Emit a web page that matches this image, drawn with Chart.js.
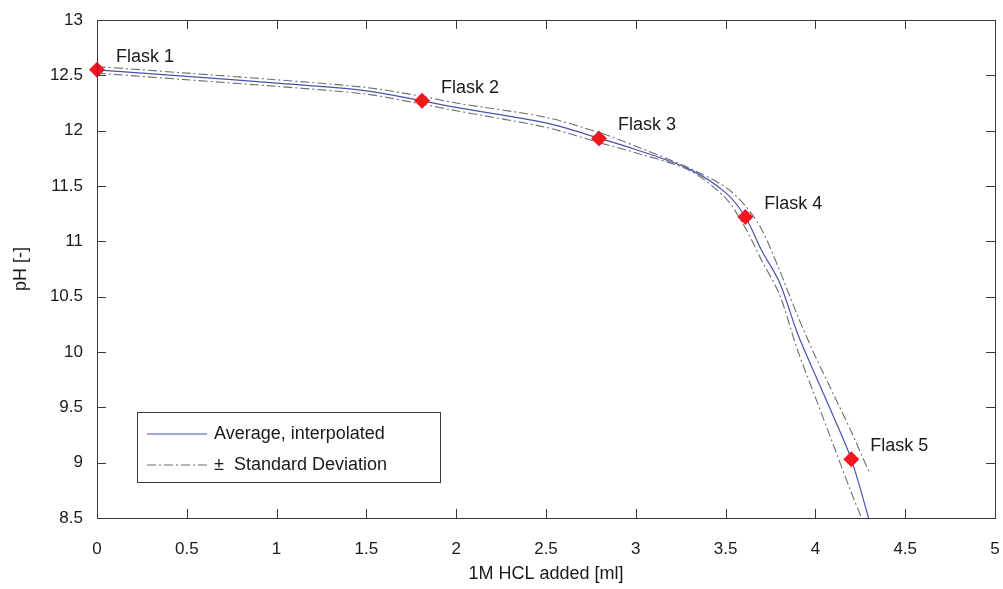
<!DOCTYPE html>
<html>
<head>
<meta charset="utf-8">
<script src="https://cdn.jsdelivr.net/npm/chart.js@4/dist/chart.umd.min.js"></script>
<style>
  html, body { margin: 0; padding: 0; background: #fff; }
  #wrap { width: 1003px; height: 589px; }
</style>
</head>
<body>
<div id="wrap"><canvas id="ph"></canvas></div>
<script>
// titration data
var hclAdded = [0, 0.5, 1.0, 1.5, 1.81, 2.0, 2.5, 2.8, 3.0, 3.3, 3.5, 3.61, 3.7, 3.8, 3.9, 4.0, 4.1, 4.2, 4.3];
var phMean  = [12.55, 12.49, 12.43, 12.36, 12.27, 12.21, 12.07, 11.93, 11.83, 11.65, 11.44, 11.22, 10.92, 10.63, 10.17, 9.79, 9.42, 9.03, 8.48];
var phUpper = [12.58, 12.52, 12.46, 12.39, 12.31, 12.25, 12.12, 11.98, 11.86, 11.66, 11.49, 11.32, 11.11, 10.74, 10.33, 9.96, 9.62, 9.28, 8.91];
var phLower = [12.52, 12.46, 12.40, 12.33, 12.24, 12.18, 12.03, 11.89, 11.80, 11.64, 11.39, 11.12, 10.83, 10.52, 10.02, 9.59, 9.16, 8.73, 8.33];

var flaskNames = ["Flask 1", "Flask 2", "Flask 3", "Flask 4", "Flask 5"];
var flaskX  = [0, 1.81, 2.795, 3.61, 4.2];
var flaskPh = [12.55, 12.27, 11.93, 11.22, 9.03];

var xTicks = [0, 0.5, 1, 1.5, 2, 2.5, 3, 3.5, 4, 4.5, 5];
var yTicks = [8.5, 9, 9.5, 10, 10.5, 11, 11.5, 12, 12.5, 13];

var FONT = "'Liberation Sans', Arial, sans-serif";
var BLUE = "rgb(72,82,178)";
var GREY = "rgb(110,110,110)";
var RED = "rgb(240,24,30)";
var DASHDOT = [9, 3, 2, 3];

function toPoints(xs, ys) {
    var arr = [];
    for (var i = 0; i < xs.length; i++) {
        arr.push({ x: xs[i], y: ys[i] });
    }
    return arr;
}

function plainNumber(v) {
    return String(Math.round(v * 10) / 10);
}

// box, inward ticks, flask labels and legend, drawn matlab style
var decorations = {
    id: 'decorations',
    afterDatasetsDraw: function (chart) {
        var ctx = chart.ctx;
        var a = chart.chartArea;
        var xs = chart.scales.x, ys = chart.scales.y;
        var t = 9;
        ctx.save();
        ctx.strokeStyle = "#3a3a3a";
        ctx.lineWidth = 1;
        ctx.setLineDash([]);
        ctx.strokeRect(Math.round(a.left) + 0.5, Math.round(a.top) + 0.5,
            Math.round(a.right - a.left), Math.round(a.bottom - a.top));
        ctx.beginPath();
        for (var i = 0; i < xTicks.length; i++) {
            var px = Math.round(xs.getPixelForValue(xTicks[i])) + 0.5;
            ctx.moveTo(px, a.bottom); ctx.lineTo(px, a.bottom - t);
            ctx.moveTo(px, a.top); ctx.lineTo(px, a.top + t);
        }
        for (var j = 0; j < yTicks.length; j++) {
            var py = Math.round(ys.getPixelForValue(yTicks[j])) + 0.5;
            ctx.moveTo(a.left, py); ctx.lineTo(a.left + t, py);
            ctx.moveTo(a.right, py); ctx.lineTo(a.right - t, py);
        }
        ctx.stroke();

        // flask labels
        ctx.fillStyle = "#1a1a1a";
        ctx.font = "18px " + FONT;
        ctx.textBaseline = "middle";
        ctx.textAlign = "left";
        for (var k = 0; k < flaskNames.length; k++) {
            var fx = xs.getPixelForValue(flaskX[k]);
            var fy = ys.getPixelForValue(flaskPh[k]);
            ctx.fillText(flaskNames[k], fx + 19, fy - 13);
        }

        // legend box
        var lx = 137, ly = 412, lw = 303, lh = 70;
        ctx.fillStyle = "#fff";
        ctx.fillRect(lx, ly, lw, lh);
        ctx.strokeStyle = "#3a3a3a";
        ctx.strokeRect(lx + 0.5, ly + 0.5, lw, lh);

        ctx.strokeStyle = BLUE;
        ctx.lineWidth = 1.2;
        ctx.beginPath();
        ctx.moveTo(147, 434); ctx.lineTo(207, 434);
        ctx.stroke();

        ctx.strokeStyle = GREY;
        ctx.setLineDash(DASHDOT);
        ctx.beginPath();
        ctx.moveTo(147, 465); ctx.lineTo(207, 465);
        ctx.stroke();
        ctx.setLineDash([]);

        ctx.fillStyle = "#1a1a1a";
        ctx.fillText("Average, interpolated", 214, 434);
        ctx.fillText("\u00b1  Standard Deviation", 214, 465);
        ctx.restore();
    }
};

var ctx = document.getElementById("ph").getContext("2d");
new Chart(ctx, {
    type: 'scatter',
    data: {
        datasets: [
            {
                label: "Upper",
                data: toPoints(hclAdded, phUpper),
                showLine: true,
                borderColor: GREY,
                borderWidth: 1.1,
                borderDash: DASHDOT,
                pointRadius: 0,
                tension: 0.3,
                order: 3
            },
            {
                label: "Lower",
                data: toPoints(hclAdded, phLower),
                showLine: true,
                borderColor: GREY,
                borderWidth: 1.1,
                borderDash: DASHDOT,
                pointRadius: 0,
                tension: 0.3,
                order: 2
            },
            {
                label: "Average, interpolated",
                data: toPoints(hclAdded, phMean),
                showLine: true,
                borderColor: BLUE,
                borderWidth: 1.2,
                pointRadius: 0,
                tension: 0.3,
                order: 1
            },
            {
                label: "Flasks",
                data: toPoints(flaskX, flaskPh),
                showLine: false,
                pointStyle: 'rectRot',
                pointRadius: 8,
                pointHoverRadius: 8,
                backgroundColor: RED,
                borderColor: RED,
                borderWidth: 0,
                clip: false,
                order: 0
            }
        ]
    },
    options: {
        responsive: true,
        maintainAspectRatio: false,
        animation: false,
        layout: { padding: { top: 20, right: 8, left: 0, bottom: 0 } },
        plugins: {
            legend: { display: false },
            tooltip: { enabled: false }
        },
        scales: {
            x: {
                type: 'linear',
                min: 0, max: 5,
                afterBuildTicks: function (s) { s.ticks = xTicks.map(function (v) { return { value: v }; }); },
                afterFit: function (s) { s.height = 71; s.paddingLeft = 0; s.paddingRight = 0; },
                grid: { display: false, drawTicks: false },
                border: { display: false },
                ticks: {
                    padding: 21,
                    color: "#1a1a1a",
                    font: { family: FONT, size: 17 },
                    maxRotation: 0,
                    callback: plainNumber
                },
                title: {
                    display: true,
                    text: "1M HCL added [ml]",
                    color: "#1a1a1a",
                    font: { family: FONT, size: 18 },
                    padding: { top: 10 }
                }
            },
            y: {
                type: 'linear',
                min: 8.5, max: 13,
                afterBuildTicks: function (s) { s.ticks = yTicks.map(function (v) { return { value: v }; }); },
                afterFit: function (s) { s.width = 97; s.paddingTop = 0; s.paddingBottom = 0; },
                grid: { display: false, drawTicks: false },
                border: { display: false },
                ticks: {
                    padding: 14,
                    color: "#1a1a1a",
                    font: { family: FONT, size: 17 },
                    callback: plainNumber
                },
                title: {
                    display: true,
                    text: "pH [-]",
                    color: "#1a1a1a",
                    font: { family: FONT, size: 18 },
                    padding: { top: 10, bottom: 4 }
                }
            }
        }
    },
    plugins: [decorations]
});
</script>
</body>
</html>
